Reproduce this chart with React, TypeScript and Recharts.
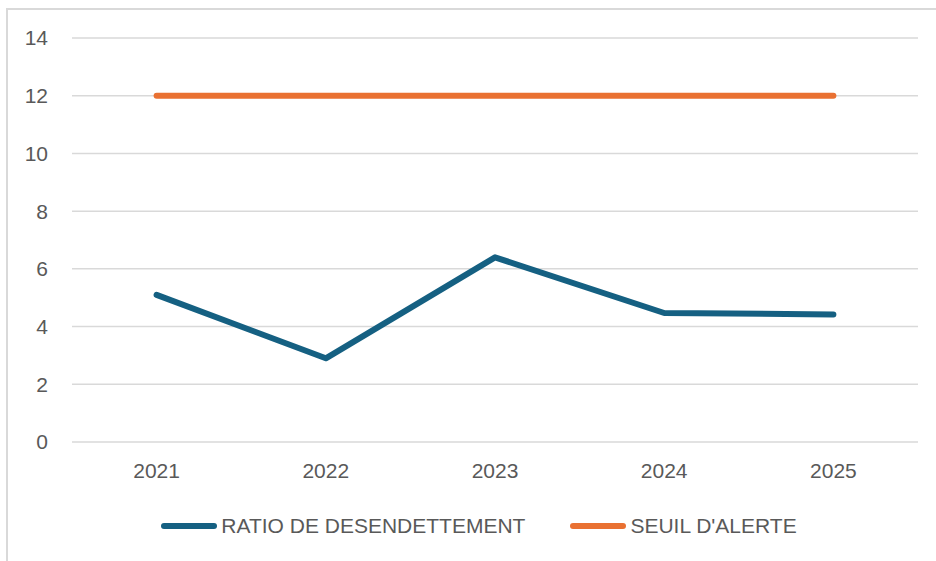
import React from 'react';
import {
  LineChart,
  Line,
  XAxis,
  YAxis,
  CartesianGrid,
  Legend,
} from 'recharts';

// values
const years = ['2021', '2022', '2023', '2024', '2025'];
const ratioDesendettement = [5.1, 2.9, 6.4, 4.47, 4.42];
const seuilAlerte = [12, 12, 12, 12, 12];
const yTicks = [0, 2, 4, 6, 8, 10, 12, 14];

const BLUE = '#156082';
const ORANGE = '#E97132';
const TEXT = '#595959';
const GRID = '#D9D9D9';
const FONT = '"Liberation Sans", Arial, sans-serif';

const data = years.map((year, i) => ({
  year,
  ratio: ratioDesendettement[i],
  seuil: seuilAlerte[i],
}));

const legendItems = [
  { label: 'RATIO DE DESENDETTEMENT', color: BLUE },
  { label: "SEUIL D'ALERTE", color: ORANGE },
];

function ChartLegend() {
  return (
    <div
      style={{
        height: 40,
        display: 'flex',
        alignItems: 'center',
        justifyContent: 'center',
        paddingLeft: 22,
        fontFamily: FONT,
        fontSize: 21,
        color: TEXT,
      }}
    >
      {legendItems.map((item, i) => (
        <div
          key={item.label}
          style={{ display: 'flex', alignItems: 'center', marginLeft: i > 0 ? 45 : 0 }}
        >
          <svg width={56} height={10} style={{ marginRight: 4 }}>
            <line
              x1={3}
              y1={5}
              x2={53}
              y2={5}
              stroke={item.color}
              strokeWidth={6}
              strokeLinecap="round"
            />
          </svg>
          <span>{item.label}</span>
        </div>
      ))}
    </div>
  );
}

export default function App() {
  return (
    <div>
      <div
        style={{
          position: 'absolute',
          left: 6,
          top: 8,
          width: 960,
          height: 580,
          border: `2px solid ${GRID}`,
          boxSizing: 'border-box',
        }}
      />
      <div style={{ position: 'absolute', left: 0, top: 0, width: 936, height: 561 }}>
        <LineChart
          width={936}
          height={561}
          data={data}
          margin={{ top: 38, right: 18, left: 0, bottom: 49 }}
        >
          <CartesianGrid vertical={false} stroke={GRID} strokeWidth={1.5} />
          <XAxis
            dataKey="year"
            axisLine={false}
            tickLine={false}
            height={30}
            tickSize={0}
            tickMargin={21}
            padding={{ left: 84.6, right: 84.6 }}
            tick={{ fill: TEXT, fontSize: 21, fontFamily: FONT }}
          />
          <YAxis
            domain={[0, 14]}
            ticks={yTicks}
            width={72}
            axisLine={false}
            tickLine={false}
            tickSize={0}
            tickMargin={24}
            tick={{ fill: TEXT, fontSize: 21, fontFamily: FONT }}
          />
          <Legend
            content={() => <ChartLegend />}
            wrapperStyle={{ top: 506, left: 0, width: 936 }}
          />
          <Line
            dataKey="ratio"
            stroke={BLUE}
            strokeWidth={6}
            strokeLinecap="round"
            strokeLinejoin="round"
            dot={false}
            isAnimationActive={false}
          />
          <Line
            dataKey="seuil"
            stroke={ORANGE}
            strokeWidth={6}
            strokeLinecap="round"
            dot={false}
            isAnimationActive={false}
          />
        </LineChart>
      </div>
    </div>
  );
}
